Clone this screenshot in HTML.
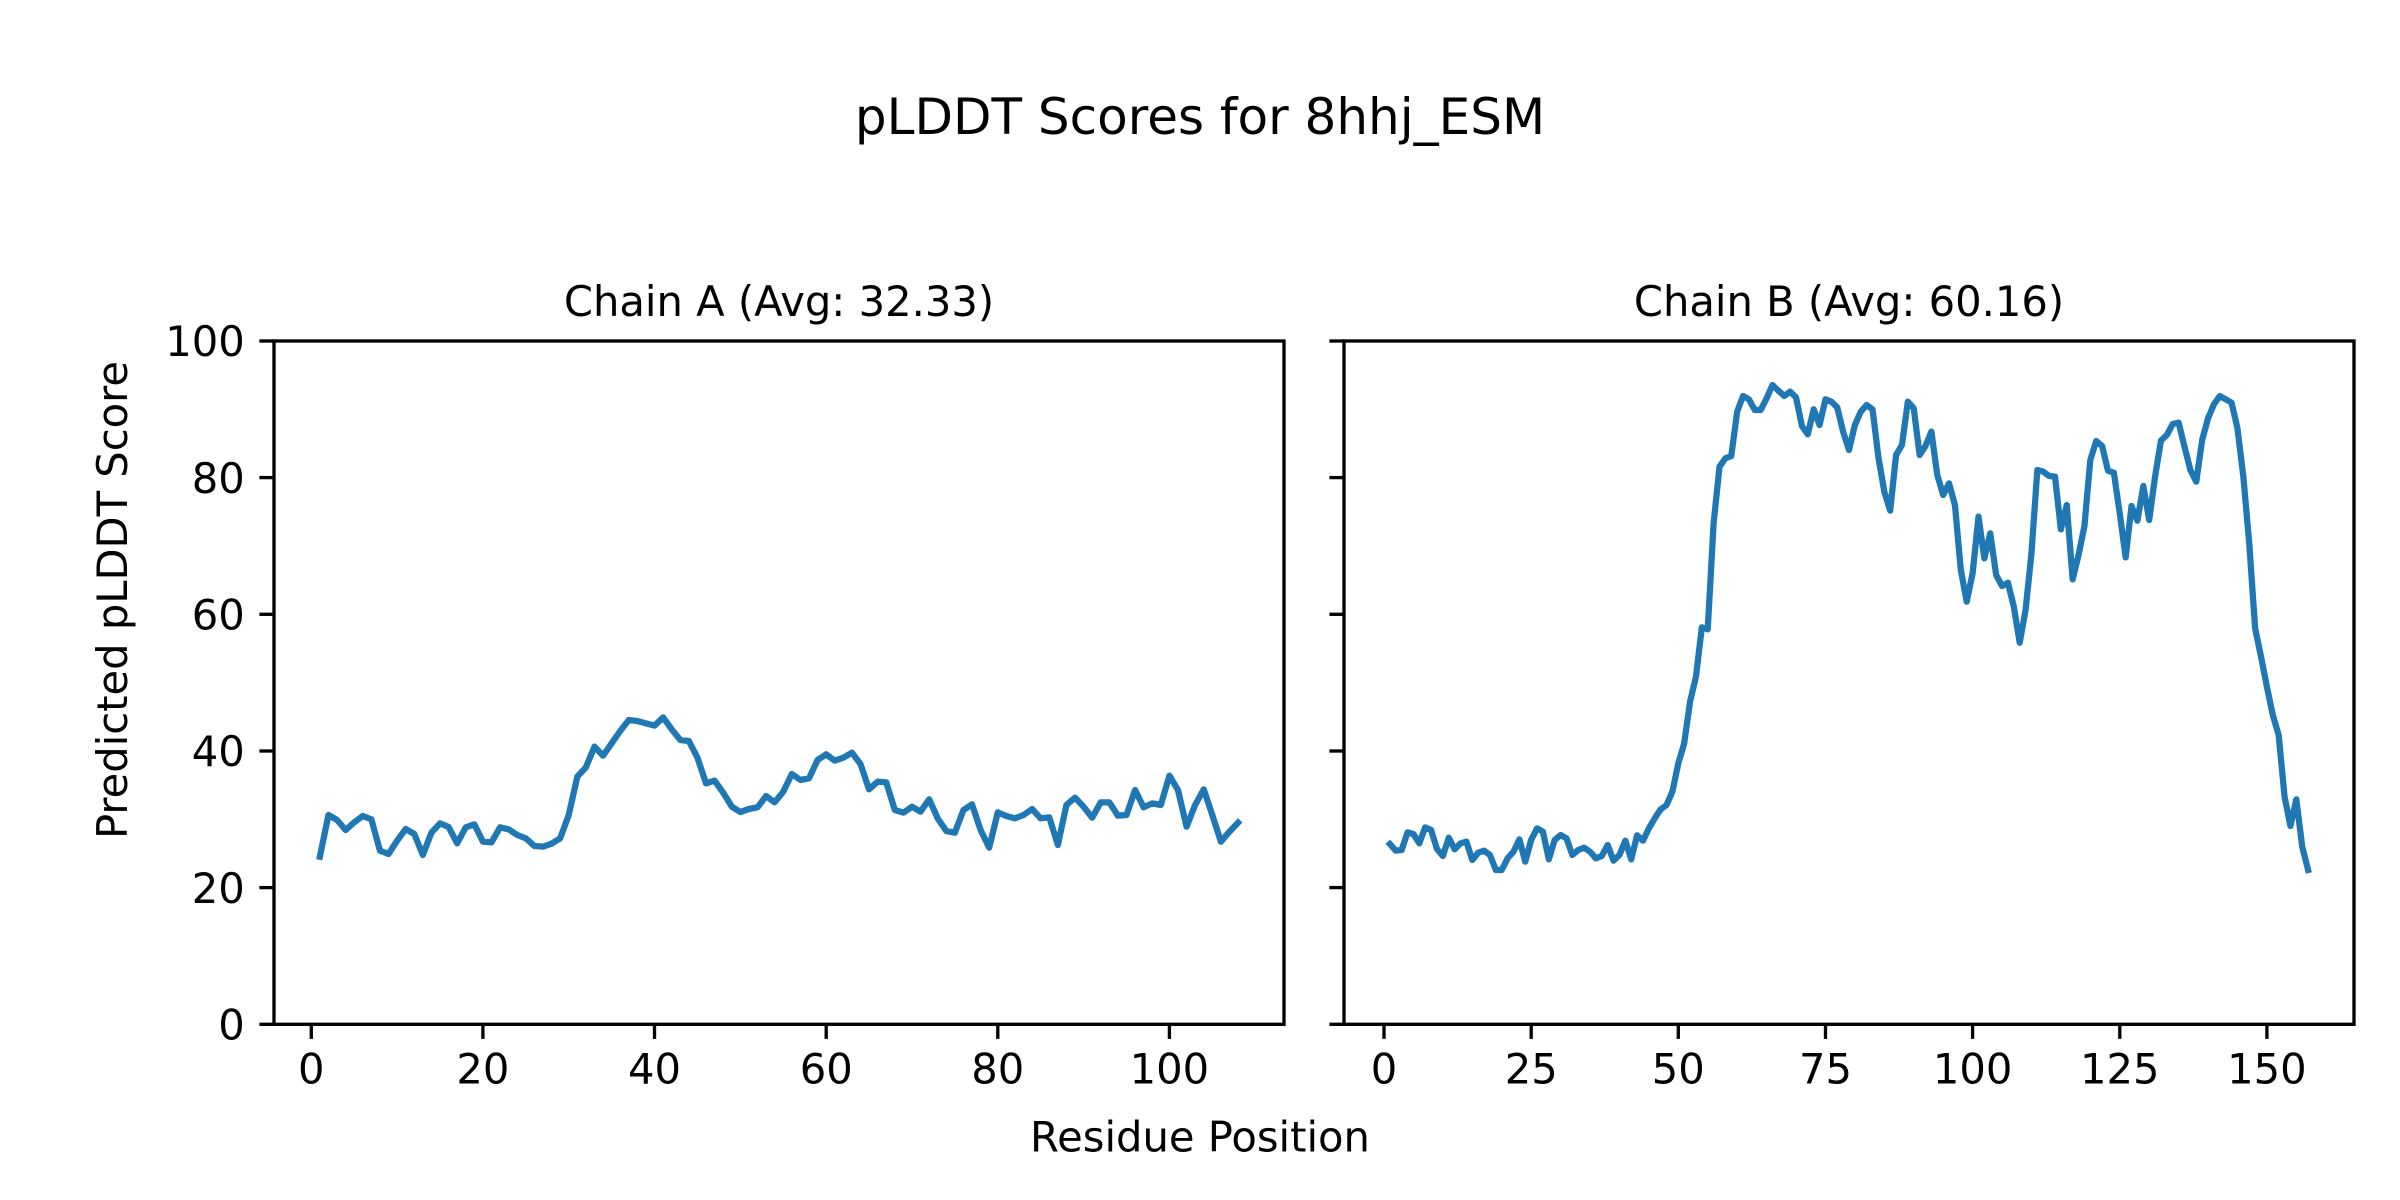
<!DOCTYPE html>
<html>
<head>
<meta charset="utf-8">
<style>
  html, body { margin: 0; padding: 0; background: #ffffff; }
  svg { display: block; }
  text { font-family: "DejaVu Sans", "Liberation Sans", sans-serif; fill: #000000; }
</style>
</head>
<body>
<svg xmlns="http://www.w3.org/2000/svg" width="2400" height="1200" viewBox="0 0 2400 1200">
  <rect x="0" y="0" width="2400" height="1200" fill="#ffffff"/>

  <!-- Suptitle -->
  <text x="1200" y="134" font-size="50" text-anchor="middle">pLDDT Scores for 8hhj_ESM</text>

  <!-- Subplot titles -->
  <text x="779" y="316" font-size="41.67" text-anchor="middle">Chain A (Avg: 32.33)</text>
  <text x="1849" y="316" font-size="41.67" text-anchor="middle">Chain B (Avg: 60.16)</text>

  <!-- Axis labels -->
  <text x="1200" y="1151.5" font-size="41.67" text-anchor="middle">Residue Position</text>
  <text transform="translate(127,600) rotate(-90)" font-size="41.67" text-anchor="middle">Predicted pLDDT Score</text>

  <!-- Chain A line -->
  <g transform="matrix(8.581,0,0,0.333333,311.3,690)">
    <polyline fill="none" stroke="#1f77b4" stroke-width="6.25" stroke-linejoin="round" stroke-linecap="square" vector-effect="non-scaling-stroke"
      points="1,500 2,375 3,390 4,420 5,397 6,378 7,388 8,482 9,492 10,452 11,417 12,432 13,495 14,428 15,400 16,411 17,460 18,412 19,403 20,455 21,457 22,412 23,418 24,435 25,445 26,468 27,470 28,461 29,445 30,375 31,260 32,232 33,170 34,197 35,160 36,123 37,90 38,93 39,100 40,107 41,82 42,118 43,150 44,153 45,203 46,280 47,272 48,308 49,350 50,366 51,357 52,352 53,318 54,337 55,305 56,252 57,270 58,265 59,210 60,193 61,212 62,203 63,188 64,222 65,298 66,275 67,277 68,360 69,368 70,350 71,365 72,328 73,385 74,423 75,428 76,360 77,343 78,420 79,473 80,367 81,378 82,385 83,375 84,357 85,385 86,382 87,465 88,345 89,323 90,350 91,383 92,337 93,337 94,377 95,375 96,300 97,352 98,340 99,345 100,257 101,300 102,410 103,345 104,298 105,375 106,455 107,425 108,398"/>
  </g>

  <!-- Chain B line -->
  <g transform="matrix(5.886,0,0,0.333333,1384,370)">
    <polyline fill="none" stroke="#1f77b4" stroke-width="6.25" stroke-linejoin="round" stroke-linecap="square" vector-effect="non-scaling-stroke"
      points="1,1422 2,1442 3,1440 4,1387 5,1392 6,1420 7,1372 8,1380 9,1437 10,1458 11,1403 12,1438 13,1420 14,1415 15,1470 16,1448 17,1442 18,1455 19,1500 20,1500 21,1465 22,1445 23,1408 24,1475 25,1410 26,1375 27,1385 28,1468 29,1410 30,1395 31,1405 32,1455 33,1440 34,1433 35,1445 36,1465 37,1458 38,1425 39,1472 40,1455 41,1412 42,1468 43,1396 44,1412 45,1375 46,1345 47,1318 48,1305 49,1265 50,1180 51,1120 52,995 53,920 54,772 55,778 56,460 57,290 58,265 59,258 60,125 61,78 62,88 63,120 64,120 65,85 66,45 67,62 68,78 69,65 70,82 71,168 72,193 73,118 74,165 75,88 76,95 77,112 78,185 79,240 80,165 81,125 82,105 83,118 84,262 85,365 86,422 87,255 88,225 89,95 90,115 91,255 92,228 93,185 94,315 95,375 96,340 97,405 98,600 99,695 100,610 101,440 102,565 103,490 104,615 105,648 106,638 107,710 108,818 109,720 110,550 111,300 112,305 113,318 114,320 115,478 116,405 117,628 118,555 119,468 120,270 121,213 122,228 123,302 124,308 125,430 126,562 127,408 128,452 129,348 130,450 131,320 132,212 133,195 134,162 135,158 136,230 137,300 138,335 139,210 140,145 141,103 142,78 143,88 144,98 145,175 146,320 147,520 148,775 149,860 150,950 151,1035 152,1095 153,1280 154,1368 155,1288 156,1430 157,1500"/>
  </g>

  <!-- Axes frames -->
  <rect x="274" y="341" width="1010" height="683.3" fill="none" stroke="#000" stroke-width="3.33" stroke-linejoin="miter"/>
  <rect x="1344" y="341" width="1010" height="683.3" fill="none" stroke="#000" stroke-width="3.33" stroke-linejoin="miter"/>

  <!-- Y ticks (left axes) -->
  <g stroke="#000" stroke-width="3.33">
    <line x1="259.4" y1="1024.3" x2="274" y2="1024.3"/>
    <line x1="259.4" y1="887.6" x2="274" y2="887.6"/>
    <line x1="259.4" y1="751" x2="274" y2="751"/>
    <line x1="259.4" y1="614.3" x2="274" y2="614.3"/>
    <line x1="259.4" y1="477.6" x2="274" y2="477.6"/>
    <line x1="259.4" y1="341" x2="274" y2="341"/>
    <!-- Y ticks (right axes) -->
    <line x1="1329.4" y1="1024.3" x2="1344" y2="1024.3"/>
    <line x1="1329.4" y1="887.6" x2="1344" y2="887.6"/>
    <line x1="1329.4" y1="751" x2="1344" y2="751"/>
    <line x1="1329.4" y1="614.3" x2="1344" y2="614.3"/>
    <line x1="1329.4" y1="477.6" x2="1344" y2="477.6"/>
    <line x1="1329.4" y1="341" x2="1344" y2="341"/>
    <!-- X ticks left -->
    <line x1="311.3" y1="1024.3" x2="311.3" y2="1038.9"/>
    <line x1="482.9" y1="1024.3" x2="482.9" y2="1038.9"/>
    <line x1="654.5" y1="1024.3" x2="654.5" y2="1038.9"/>
    <line x1="826.2" y1="1024.3" x2="826.2" y2="1038.9"/>
    <line x1="997.8" y1="1024.3" x2="997.8" y2="1038.9"/>
    <line x1="1169.4" y1="1024.3" x2="1169.4" y2="1038.9"/>
    <!-- X ticks right -->
    <line x1="1384" y1="1024.3" x2="1384" y2="1038.9"/>
    <line x1="1531.2" y1="1024.3" x2="1531.2" y2="1038.9"/>
    <line x1="1678.3" y1="1024.3" x2="1678.3" y2="1038.9"/>
    <line x1="1825.5" y1="1024.3" x2="1825.5" y2="1038.9"/>
    <line x1="1972.6" y1="1024.3" x2="1972.6" y2="1038.9"/>
    <line x1="2119.8" y1="1024.3" x2="2119.8" y2="1038.9"/>
    <line x1="2266.9" y1="1024.3" x2="2266.9" y2="1038.9"/>
  </g>

  <!-- Y tick labels -->
  <g font-size="41.67" text-anchor="end">
    <text x="244.8" y="1039.5">0</text>
    <text x="244.8" y="902.8">20</text>
    <text x="244.8" y="766.2">40</text>
    <text x="244.8" y="629.5">60</text>
    <text x="244.8" y="492.8">80</text>
    <text x="244.8" y="356.2">100</text>
  </g>

  <!-- X tick labels -->
  <g font-size="41.67" text-anchor="middle">
    <text x="311.3" y="1083.3">0</text>
    <text x="482.9" y="1083.3">20</text>
    <text x="654.5" y="1083.3">40</text>
    <text x="826.2" y="1083.3">60</text>
    <text x="997.8" y="1083.3">80</text>
    <text x="1169.4" y="1083.3">100</text>
    <text x="1384" y="1083.3">0</text>
    <text x="1531.2" y="1083.3">25</text>
    <text x="1678.3" y="1083.3">50</text>
    <text x="1825.5" y="1083.3">75</text>
    <text x="1972.6" y="1083.3">100</text>
    <text x="2119.8" y="1083.3">125</text>
    <text x="2266.9" y="1083.3">150</text>
  </g>
</svg>
</body>
</html>
